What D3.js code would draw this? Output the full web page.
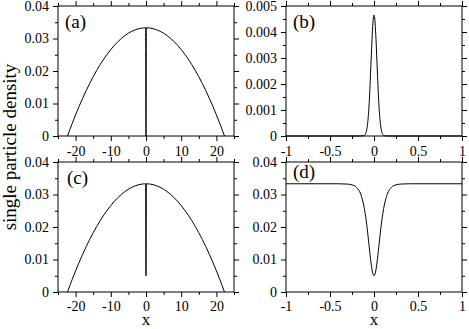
<!DOCTYPE html>
<meta charset="utf-8">
<script src="https://d3js.org/d3.v7.min.js"></script>
<style>
  body { margin: 0; background: #fff; }
  text { font-family: "Liberation Serif", "Times New Roman", serif; }
</style>
<div id="chart"></div>
<script>

    // panel (a) and (c): wide view, x in [-25, 25]
    var wideX = [-22.3, -21, -20, -18, -16, -14, -12, -10, -8, -6, -4, -2, -0.1, 0, 0.1,
                 2, 4, 6, 8, 10, 12, 14, 16, 18, 20, 21, 22.3];
    var densA = [0, 0.00377, 0.00651, 0.0116, 0.01616, 0.02018, 0.02366, 0.0266, 0.02901, 0.03089, 0.03223, 0.03303, 0.0333, 0, 0.0333,
                 0.03303, 0.03223, 0.03089, 0.02901, 0.0266, 0.02366, 0.02018, 0.01616, 0.0116, 0.00651, 0.00377, 0];
    var densC = [0, 0.00377, 0.00651, 0.0116, 0.01616, 0.02018, 0.02366, 0.0266, 0.02901, 0.03089, 0.03223, 0.03303, 0.0333, 0.005, 0.0333,
                 0.03303, 0.03223, 0.03089, 0.02901, 0.0266, 0.02366, 0.02018, 0.01616, 0.0116, 0.00651, 0.00377, 0];

    // panel (b): zoom on the core
    var coreXB = [-1, -0.15, -0.12, -0.1, -0.08, -0.07, -0.06, -0.05, -0.04, -0.03, -0.02, -0.01, 0,
                  0.01, 0.02, 0.03, 0.04, 0.05, 0.06, 0.07, 0.08, 0.1, 0.12, 0.15, 1];
    var densB = [0, 0, 0.00001, 0.00006, 0.00029, 0.00056, 0.00098, 0.00158, 0.00233, 0.00315, 0.00391, 0.00445, 0.00465,
                 0.00445, 0.00391, 0.00315, 0.00233, 0.00158, 0.00098, 0.00056, 0.00029, 0.00006, 0.00001, 0, 0];

    // panel (d): zoom on the dip
    var coreXD = [-1, -0.4, -0.3, -0.25, -0.2, -0.15, -0.12, -0.1, -0.08, -0.06, -0.04, -0.02, 0,
                  0.02, 0.04, 0.06, 0.08, 0.1, 0.12, 0.15, 0.2, 0.25, 0.3, 0.4, 1];
    var densD = [0.0333, 0.0333, 0.0332, 0.03296, 0.03224, 0.03004, 0.02707, 0.0241, 0.02017, 0.0153, 0.01033, 0.00648, 0.005,
                 0.00648, 0.01033, 0.0153, 0.02017, 0.0241, 0.02707, 0.03004, 0.03224, 0.03296, 0.0332, 0.0333, 0.0333];

    var wideTicks = [-20, -10, 0, 10, 20];
    var wideMinor = [-25, -15, -5, 5, 15, 25];
    var coreTicks = [-1, -0.5, 0, 0.5, 1];
    var coreMinor = [-0.75, -0.25, 0.25, 0.75];
    var densTicks = [0, 0.01, 0.02, 0.03, 0.04];
    var densMinor = [0.005, 0.015, 0.025, 0.035];
    var smallTicks = [0, 0.001, 0.002, 0.003, 0.004, 0.005];
    var smallMinor = [0.0005, 0.0015, 0.0025, 0.0035, 0.0045];

    var svg = d3.select("#chart")
      .append("svg")
        .attr("width", 469)
        .attr("height", 329);

    var panels = [
      {label: "(a)", x0: 58, y0: 6, xs: wideX, ys: densA, xd: [-25, 25], yd: [0, 0.04],
       xt: wideTicks, xm: wideMinor, yt: densTicks, ym: densMinor, lx: 7, ly: 22, pad: 5, xlab: false},
      {label: "(b)", x0: 286, y0: 6, xs: coreXB, ys: densB, xd: [-1, 1], yd: [0, 0.005],
       xt: coreTicks, xm: coreMinor, yt: smallTicks, ym: smallMinor, lx: 7, ly: 22, pad: 5, xlab: false},
      {label: "(c)", x0: 58, y0: 162, xs: wideX, ys: densC, xd: [-25, 25], yd: [0, 0.04],
       xt: wideTicks, xm: wideMinor, yt: densTicks, ym: densMinor, lx: 9, ly: 22, pad: 4, xlab: true},
      {label: "(d)", x0: 286, y0: 162, xs: coreXD, ys: densD, xd: [-1, 1], yd: [0, 0.04],
       xt: coreTicks, xm: coreMinor, yt: densTicks, ym: densMinor, lx: 7, ly: 16, pad: 4, xlab: true}
    ];

    var pw = 176, ph = 130;

    panels.forEach(function(p) {
      var g = svg.append("g")
        .attr("transform", "translate(" + p.x0 + "," + p.y0 + ")");

      var x = d3.scaleLinear().domain(p.xd).range([0, pw]);
      var y = d3.scaleLinear().domain(p.yd).range([ph, 0]);

      var fmt = function(d) { return String(d); };

      // major + minor ticks, all pointing out, on all four sides
      g.append("g").attr("class", "ax")
        .attr("transform", "translate(0," + ph + ")")
        .call(d3.axisBottom(x).tickValues(p.xt).tickFormat(fmt).tickSize(5).tickPadding(p.pad).tickSizeOuter(0));
      g.append("g").attr("class", "ax")
        .attr("transform", "translate(0," + ph + ")")
        .call(d3.axisBottom(x).tickValues(p.xm).tickFormat("").tickSize(3).tickSizeOuter(0));
      g.append("g").attr("class", "ax")
        .call(d3.axisTop(x).tickValues(p.xt).tickFormat("").tickSize(5).tickSizeOuter(0));
      g.append("g").attr("class", "ax")
        .call(d3.axisTop(x).tickValues(p.xm).tickFormat("").tickSize(3).tickSizeOuter(0));

      g.append("g").attr("class", "ax")
        .call(d3.axisLeft(y).tickValues(p.yt).tickFormat(fmt).tickSize(5).tickPadding(4).tickSizeOuter(0));
      g.append("g").attr("class", "ax")
        .call(d3.axisLeft(y).tickValues(p.ym).tickFormat("").tickSize(3).tickSizeOuter(0));
      g.append("g").attr("class", "ax")
        .attr("transform", "translate(" + pw + ",0)")
        .call(d3.axisRight(y).tickValues(p.yt).tickFormat("").tickSize(5).tickSizeOuter(0));
      g.append("g").attr("class", "ax")
        .attr("transform", "translate(" + pw + ",0)")
        .call(d3.axisRight(y).tickValues(p.ym).tickFormat("").tickSize(3).tickSizeOuter(0));

      g.selectAll(".ax .domain").remove();
      g.selectAll(".ax").attr("font-family", "Liberation Serif");
      g.selectAll(".ax line").attr("stroke", "#000").attr("stroke-width", 1);
      g.selectAll(".ax text")
        .attr("fill", "#000")
        .style("font-size", "14px");

      // frame
      g.append("rect")
        .attr("x", 0).attr("y", 0)
        .attr("width", pw).attr("height", ph)
        .attr("fill", "none")
        .attr("stroke", "#000")
        .attr("stroke-width", 1);

      var pts = p.xs.map(function(v, i) { return [v, p.ys[i]]; });
      var line = d3.line()
        .x(function(d) { return x(d[0]); })
        .y(function(d) { return y(d[1]); })
        .curve(d3.curveMonotoneX);

      g.append("path")
        .datum(pts)
        .attr("d", line)
        .attr("fill", "none")
        .attr("stroke", "#000")
        .attr("stroke-width", 1);

      g.append("text")
        .attr("x", p.lx)
        .attr("y", p.ly)
        .style("font-size", "19px")
        .text(p.label);

      if (p.xlab) {
        svg.append("text")
          .attr("x", p.x0 + pw / 2)
          .attr("y", 325)
          .attr("text-anchor", "middle")
          .style("font-size", "17px")
          .text("x");
      }
    });

    svg.append("text")
      .attr("transform", "translate(16,147) rotate(-90)")
      .attr("text-anchor", "middle")
      .style("font-size", "19px")
      .text("single particle density");

</script>
